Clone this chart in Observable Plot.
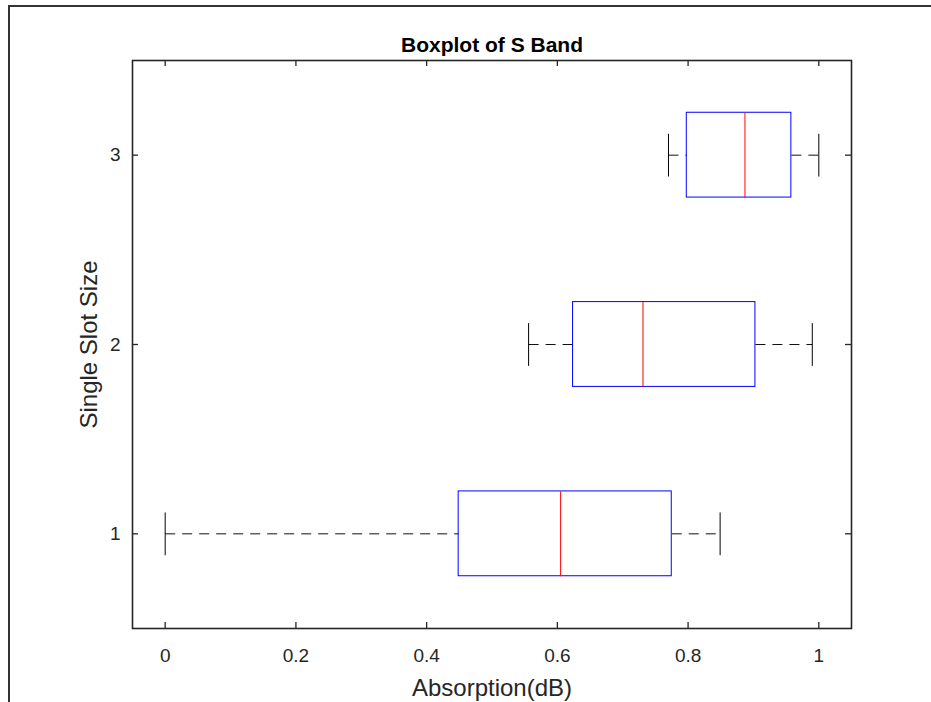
<!DOCTYPE html>
<html>
<head>
<meta charset="utf-8">
<script src="https://cdn.jsdelivr.net/npm/d3@7"></script>
<script src="https://cdn.jsdelivr.net/npm/@observablehq/plot@0.6"></script>
<style>
  html, body { margin: 0; padding: 0; background: #fff; }
  #wrap { position: relative; width: 931px; height: 702px; overflow: hidden; background: #fff; }
  #border { position: absolute; left: 8px; top: 5px; width: 940px; height: 720px; z-index: 2;
            border-left: 2px solid #333; border-top: 2px solid #333; box-sizing: border-box; pointer-events: none; }
  #chart { position: absolute; left: 0; top: 0; z-index: 1; }
</style>
</head>
<body>
<div id="wrap"><div id="chart"></div><div id="border"></div></div>
<script>
// Data (horizontal box plot per slot size)
const groups = [1, 2, 3];
const whiskerLow = [0.000, 0.556, 0.770];
const q1 = [0.449, 0.624, 0.798];
const median = [0.605, 0.731, 0.887];
const q3 = [0.775, 0.903, 0.958];
const whiskerHigh = [0.849, 0.990, 1.000];
const xTicks = [0, 0.2, 0.4, 0.6, 0.8, 1];
const yTicks = [1, 2, 3];

const title = "Boxplot of S Band";
const xLabel = "Absorption(dB)";
const yLabel = "Single Slot Size";

const rows = groups.map((g, i) => ({
  g, lo: whiskerLow[i], q1: q1[i], med: median[i], q3: q3[i], hi: whiskerHigh[i]
}));

const boxHalf = 0.224;
const capHalf = 0.113;

const W = 931, H = 702;
const mL = 132, mR = 80, mT = 60, mB = 74;
const pw = W - mL - mR, ph = H - mT - mB;
const tick = 6;
const axisColor = "#262626";
const font = "'Liberation Sans', Arial, Helvetica, sans-serif";

const plot = Plot.plot({
  width: W,
  height: H,
  marginLeft: mL, marginRight: mR, marginTop: mT, marginBottom: mB,
  style: { fontFamily: font, background: "transparent", overflow: "visible" },
  x: { domain: [-0.05, 1.05], axis: null },
  y: { domain: [0.5, 3.5], axis: null },
  marks: [
    // whiskers (dashed)
    Plot.link(rows, { x1: "lo", x2: "q1", y1: "g", y2: "g", stroke: "#111", strokeWidth: 1, strokeDasharray: "10,7" }),
    Plot.link(rows, { x1: "q3", x2: "hi", y1: "g", y2: "g", stroke: "#111", strokeWidth: 1, strokeDasharray: "10,7" }),
    // caps
    Plot.link(rows, { x1: "lo", x2: "lo", y1: d => d.g - capHalf, y2: d => d.g + capHalf, stroke: "#000", strokeWidth: 1 }),
    Plot.link(rows, { x1: "hi", x2: "hi", y1: d => d.g - capHalf, y2: d => d.g + capHalf, stroke: "#000", strokeWidth: 1 }),
    // boxes
    Plot.rect(rows, { x1: "q1", x2: "q3", y1: d => d.g - boxHalf, y2: d => d.g + boxHalf, fill: "none", stroke: "#0000ff", strokeWidth: 1 }),
    // medians
    Plot.link(rows, { x1: "med", x2: "med", y1: d => d.g - boxHalf, y2: d => d.g + boxHalf, stroke: "#ff0000", strokeWidth: 1 }),
    // inward ticks on all four sides
    Plot.ruleX(xTicks, { x: d => d, insetTop: ph - tick, stroke: axisColor, strokeWidth: 1.3 }),
    Plot.ruleX(xTicks, { x: d => d, insetBottom: ph - tick, stroke: axisColor, strokeWidth: 1.3 }),
    Plot.ruleY(yTicks, { y: d => d, insetRight: pw - tick, stroke: axisColor, strokeWidth: 1.3 }),
    Plot.ruleY(yTicks, { y: d => d, insetLeft: pw - tick, stroke: axisColor, strokeWidth: 1.3 }),
    // tick labels
    Plot.text(xTicks, { x: d => d, frameAnchor: "bottom", lineAnchor: "middle", textAnchor: "middle", dy: 27, text: d => String(d), fontSize: 19, fill: axisColor }),
    Plot.text(yTicks, { y: d => d, frameAnchor: "left", lineAnchor: "middle", textAnchor: "end", dx: -12, text: d => String(d), fontSize: 19, fill: axisColor }),
    Plot.frame({ stroke: axisColor, strokeWidth: 1.6 }),
    // title and axis labels
    Plot.text([title], { frameAnchor: "top", lineAnchor: "middle", textAnchor: "middle", dy: -15, text: d => d, fontSize: 21, fontWeight: "bold", fill: "#000" }),
    Plot.text([xLabel], { frameAnchor: "bottom", lineAnchor: "middle", textAnchor: "middle", dy: 60, text: d => d, fontSize: 24, fill: axisColor }),
    Plot.text([yLabel], { frameAnchor: "left", lineAnchor: "middle", textAnchor: "middle", dx: -43, rotate: -90, text: d => d, fontSize: 24, fill: axisColor })
  ]
});
document.getElementById("chart").appendChild(plot);
</script>
</body>
</html>
